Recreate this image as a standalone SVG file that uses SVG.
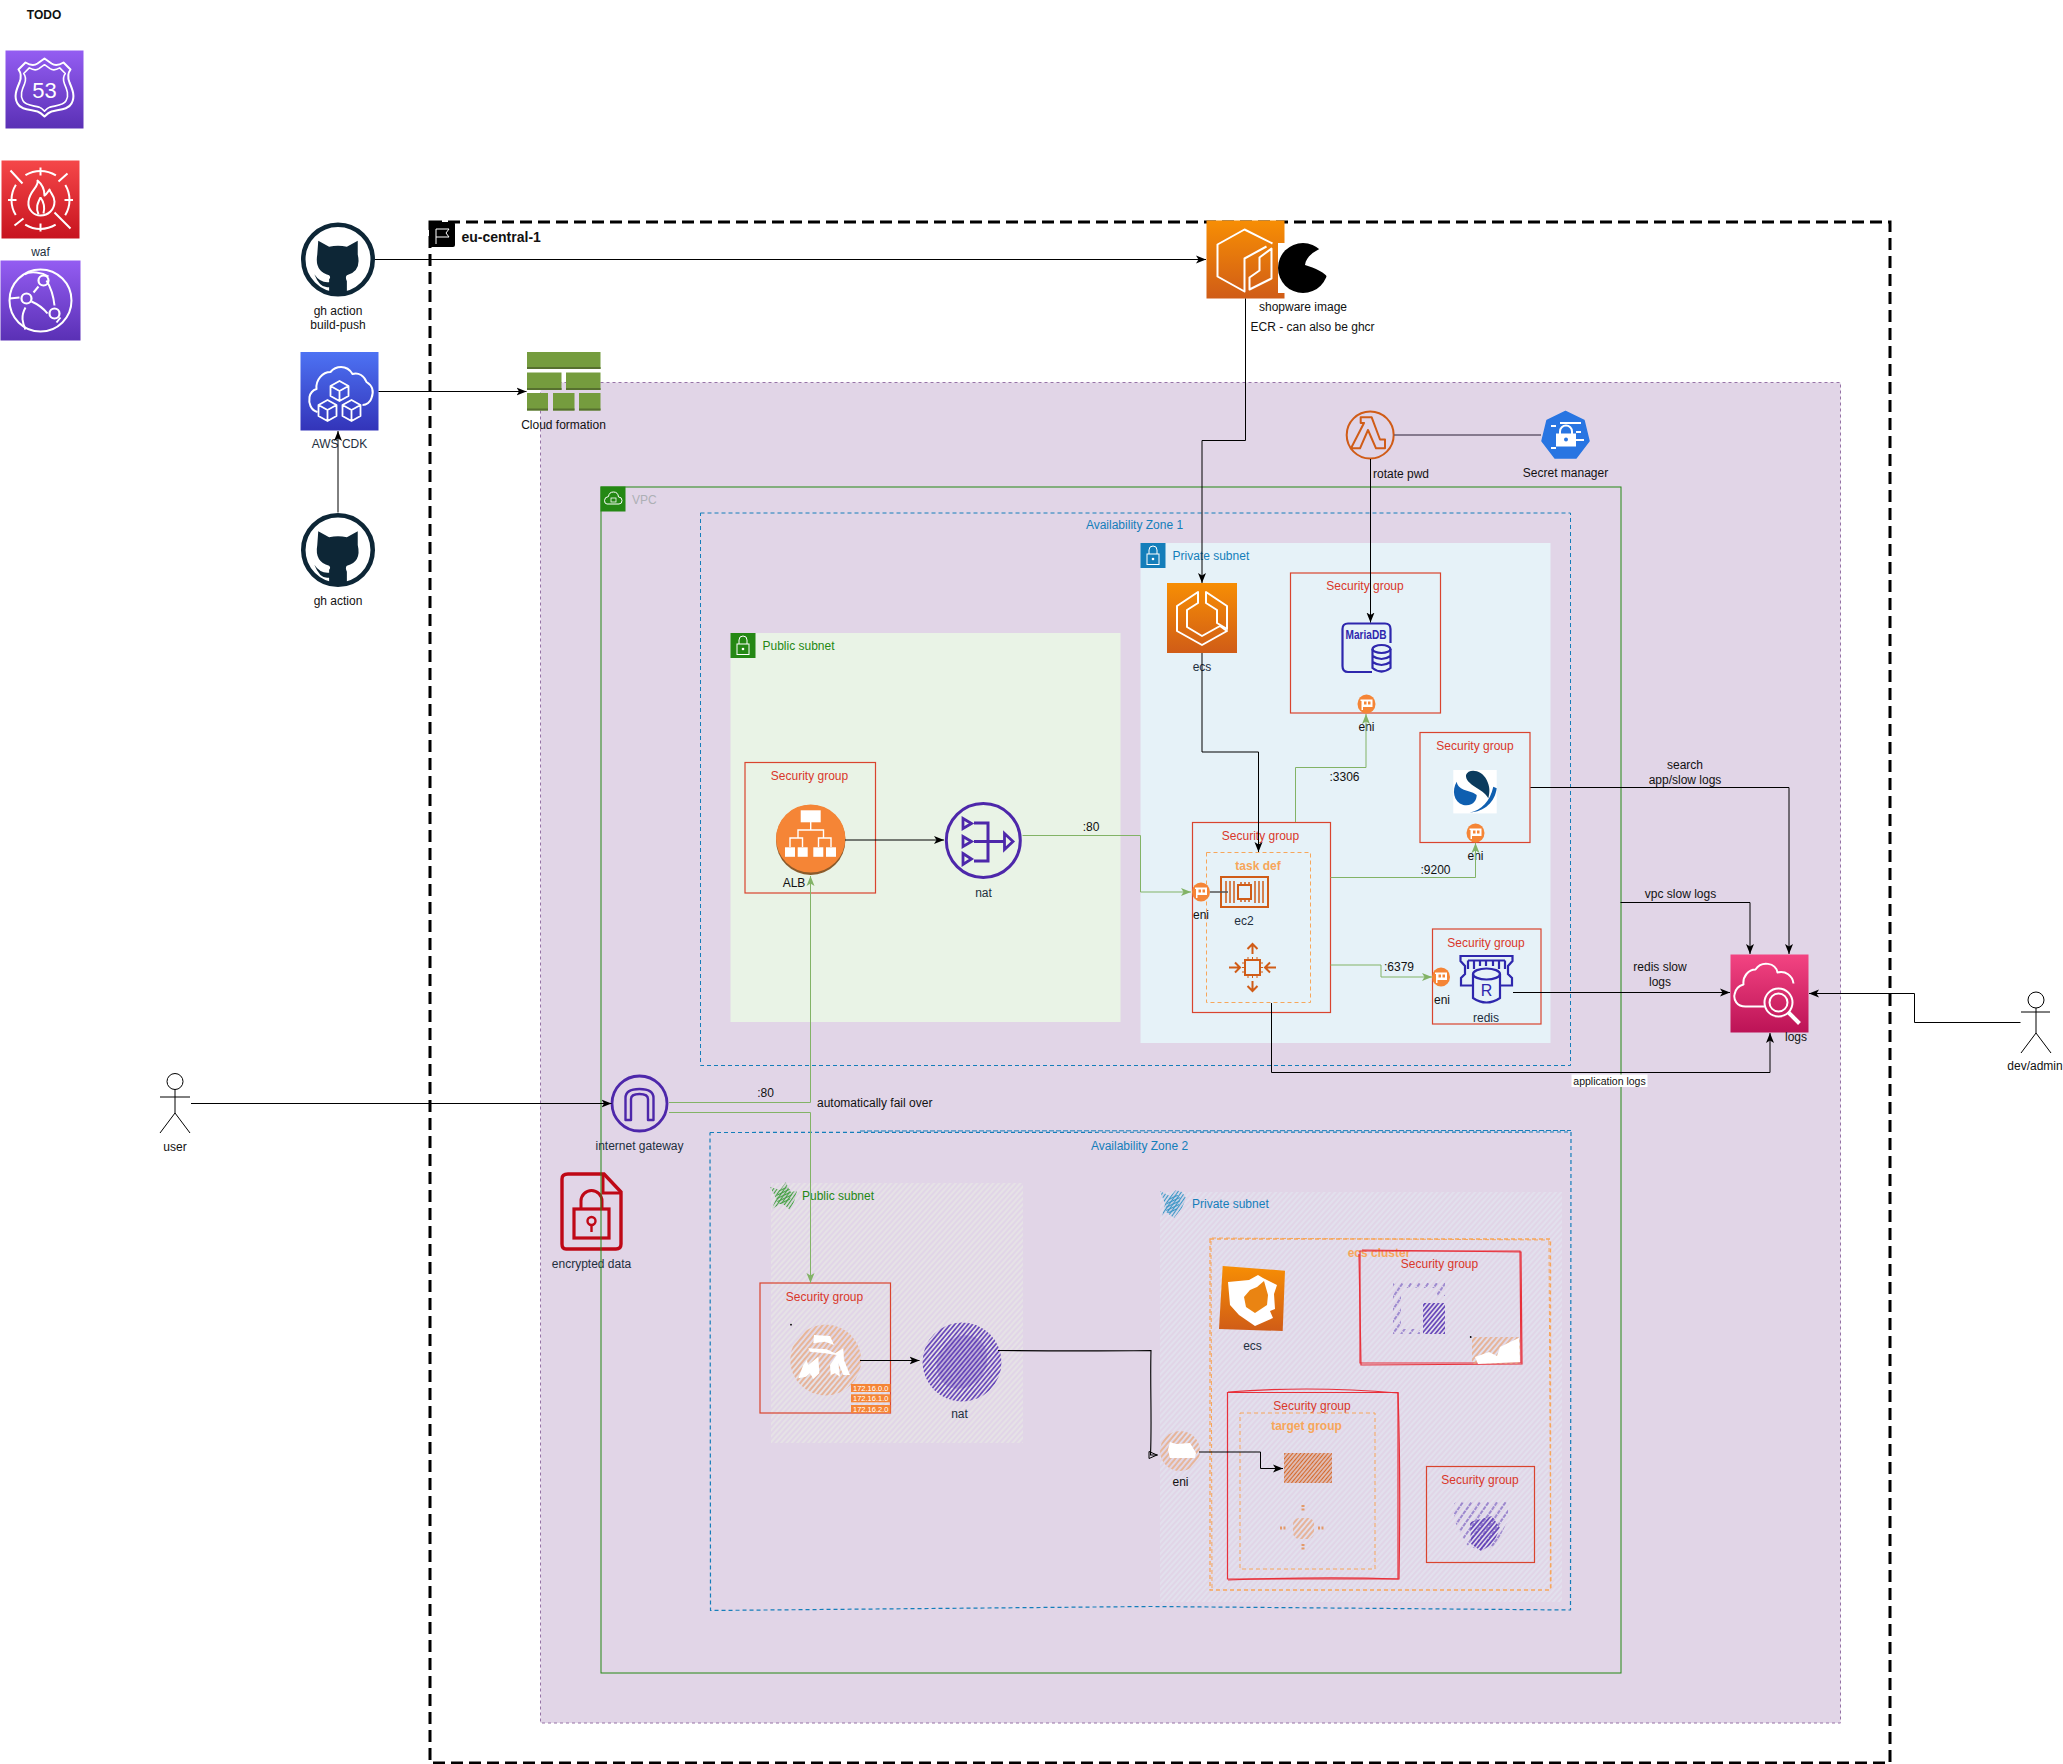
<svg xmlns="http://www.w3.org/2000/svg" width="2063" height="1764" viewBox="0 0 2063 1764">
<style>
text{font-family:"Liberation Sans",Arial,sans-serif;font-size:12px;fill:#111;dominant-baseline:central}
.m{text-anchor:middle}
.sgl{fill:#d9372a;text-anchor:middle}
.sg{fill:none;stroke:#d9442e;stroke-width:1.2}
.sk{fill:none;stroke:#e8303a;stroke-width:1.2}
.or{fill:#f7a65a;font-weight:bold;text-anchor:middle}
.dash{fill:none;stroke:#f7a65a;stroke-width:1;stroke-dasharray:4 3}
.ln{fill:none;stroke:#000;stroke-width:1;marker-end:url(#a)}
.ng{fill:none;stroke:#000;stroke-width:1}
.gr{fill:none;stroke:#82b366;stroke-width:1;marker-end:url(#g)}
.w{fill:none;stroke:#fff;stroke-width:2;stroke-linejoin:round}
.o{fill:none;stroke:#d05c17;stroke-width:2}
.p{fill:none;stroke:#2e27ad;stroke-width:2.2}
.v{fill:none;stroke:#4d27aa;stroke-width:3}
.tag{font-size:7.500px;fill:#fff;text-anchor:middle}
</style>
<defs>
<marker id="a" markerUnits="userSpaceOnUse" markerWidth="11" markerHeight="10" refX="10" refY="4.500" orient="auto"><path d="M0 .5L10 4.500L0 8.500L2.500 4.500Z" fill="#000"/></marker>
<marker id="g" markerUnits="userSpaceOnUse" markerWidth="11" markerHeight="10" refX="10" refY="4.500" orient="auto"><path d="M0 .5L10 4.500L0 8.500L2.500 4.500Z" fill="#82b366"/></marker>
<marker id="op" markerUnits="userSpaceOnUse" markerWidth="11" markerHeight="10" refX="10" refY="4.500" orient="auto"><path d="M1 1L9 4.500L1 8Z" fill="none" stroke="#000"/></marker>
<linearGradient id="gPur" x1="0" y1="0" x2="0" y2="1"><stop offset="0" stop-color="#945df2"/><stop offset="1" stop-color="#5a30b5"/></linearGradient>
<linearGradient id="gRed" x1="0" y1="0" x2="0" y2="1"><stop offset="0" stop-color="#f54749"/><stop offset="1" stop-color="#c7131f"/></linearGradient>
<linearGradient id="gBlu" x1="0" y1="0" x2="0" y2="1"><stop offset="0" stop-color="#4d72f3"/><stop offset="1" stop-color="#3334b9"/></linearGradient>
<linearGradient id="gOrg" x1="0" y1="0" x2="0" y2="1"><stop offset="0" stop-color="#f78e04"/><stop offset="1" stop-color="#d05c17"/></linearGradient>
<linearGradient id="gPnk" x1="0" y1="0" x2="0" y2="1"><stop offset="0" stop-color="#f34482"/><stop offset="1" stop-color="#bc1356"/></linearGradient>
<pattern id="hPub" patternUnits="userSpaceOnUse" width="4" height="4" patternTransform="rotate(-48)"><path d="M0 2H4" stroke="#e8e6e6" stroke-width="1.600"/></pattern>
<pattern id="hPri" patternUnits="userSpaceOnUse" width="4" height="4" patternTransform="rotate(-48)"><path d="M0 2H4" stroke="#e2e3ef" stroke-width="1.600"/></pattern>
<pattern id="hOrg" patternUnits="userSpaceOnUse" width="4" height="4" patternTransform="rotate(-50)"><path d="M0 2H4" stroke="#e9a87f" stroke-width="1.500"/></pattern>
<pattern id="hOrd" patternUnits="userSpaceOnUse" width="3" height="3" patternTransform="rotate(-50)"><path d="M0 1.500H3" stroke="#d5692a" stroke-width="1.600"/></pattern>
<pattern id="hVio" patternUnits="userSpaceOnUse" width="3.400" height="3.400" patternTransform="rotate(-50)"><path d="M0 1.700H3.400" stroke="#5a38b4" stroke-width="1.500"/></pattern>
<pattern id="hVi2" patternUnits="userSpaceOnUse" width="5" height="7" patternTransform="rotate(-55)"><path d="M0 2H5" stroke="#5a38b4" stroke-width="1.200" stroke-dasharray="3 1"/></pattern>
<pattern id="hGrn" patternUnits="userSpaceOnUse" width="3" height="3" patternTransform="rotate(-55)"><path d="M0 1.500H3" stroke="#45a045" stroke-width="1.200"/></pattern>
<pattern id="hBlu" patternUnits="userSpaceOnUse" width="3" height="3" patternTransform="rotate(-55)"><path d="M0 1.500H3" stroke="#3a96c6" stroke-width="1.200"/></pattern>
<symbol id="gh" viewBox="-38 -38 76 76" overflow="visible">
<circle r="35.200" fill="#fff" stroke="#0d2636" stroke-width="4.600"/>
<path fill="#0d2636" d="M-20-19L-9-13Q0-15 9-13L20-19L20-5Q24 12 9 16Q7 18 9 22L9 34Q0 36-9 34L-9 28Q-18 30-24 15Q-18 24-9 23L-9 20Q-7 18-9 16Q-24 12-21-5Z"/>
</symbol>
<symbol id="eni" viewBox="-10 -10 20 20" overflow="visible">
<ellipse rx="9" ry="9.600" fill="#f58536"/>
<path d="M-6-4.500H6V3H-3.500V6H-5V-3H-6Z" fill="#fff"/><path d="M-2.500-2.500H0V.5H-2.500ZM1.500-2.500H4V.5H1.500Z" fill="#f58536"/>
</symbol>
</defs>

<g id="region"><rect x="430" y="222" width="1460" height="1541" fill="none" stroke="#000" stroke-width="3" stroke-dasharray="12 6"/>
<rect x="429" y="222" width="26" height="25" rx="2" fill="#000"/><path d="M436 229V244M436 229H449L446 233L449 237H436" fill="none" stroke="#fff" stroke-width="1"/>
<text x="461.500" y="237" style="font-weight:bold;font-size:14px">eu-central-1</text></g>
<g id="stack"><rect x="540.500" y="382.500" width="1300" height="1340.500" fill="#e1d5e7" stroke="#9673a6" stroke-width="1" stroke-dasharray="3 3"/></g>

<g id="encrypted-data"><path d="M568 1174H604L621 1192V1244Q621 1249 616 1249H566Q562 1249 562 1244V1179Q562 1174 568 1174Z" fill="none" stroke="#bf0816" stroke-width="3.400"/><path d="M603 1175V1193H621" fill="none" stroke="#bf0816" stroke-width="3"/>
<rect x="574" y="1209" width="35" height="29" fill="none" stroke="#bf0816" stroke-width="3.200"/><path d="M581 1209V1201a10.500 10.500 0 0 1 21 0V1209" fill="none" stroke="#bf0816" stroke-width="3"/><circle cx="591.500" cy="1221" r="4" fill="none" stroke="#bf0816" stroke-width="2.400"/><path d="M591.500 1225V1232" stroke="#bf0816" stroke-width="2.400"/>
<text class="m" x="591.500" y="1264" style="fill:#232f3e">encrypted data</text></g>

<g id="vpc"><rect x="601" y="487" width="1020" height="1186" fill="none" stroke="#248814" stroke-width="1"/>
<rect x="600.500" y="486.500" width="25" height="25" fill="#248814"/>
<path d="M607 504H619Q622 504 622 500.500Q622 497 618.500 497Q618 492 613.500 492Q609 492 608.500 496.500Q604.500 497 604.500 500.500Q604.500 504 607 504Z" fill="none" stroke="#fff" stroke-width="1"/><rect x="611" y="498" width="5" height="4" fill="none" stroke="#fff" stroke-width=".8"/>
<text x="632" y="499.500" style="fill:#adb0b5">VPC</text></g>

<g id="az1"><rect x="700.500" y="513" width="870" height="552.500" fill="none" stroke="#147eba" stroke-width="1" stroke-dasharray="4 3"/>
<text class="m" x="1134.500" y="525" style="fill:#147eba">Availability Zone 1</text></g>

<g id="public-subnet-1"><rect x="730.500" y="633" width="390" height="389" fill="#e9f3e6"/>
<rect x="730.500" y="633" width="25" height="25" fill="#248814"/><rect x="737" y="644" width="12" height="10.500" fill="none" stroke="#fff" stroke-width="1"/><path d="M739 644V640a4 4 0 0 1 8 0V644" fill="none" stroke="#fff" stroke-width="1"/><circle cx="743" cy="649" r="1.300" fill="#fff"/>
<text x="762.500" y="645.500" style="fill:#248814">Public subnet</text></g>

<g id="private-subnet-1"><rect x="1140.500" y="543" width="410" height="500" fill="#e6f2f8"/>
<rect x="1140.500" y="543" width="25" height="25" fill="#147eba"/><rect x="1147" y="554" width="12" height="10.500" fill="none" stroke="#fff" stroke-width="1"/><path d="M1149 554V550a4 4 0 0 1 8 0V554" fill="none" stroke="#fff" stroke-width="1"/><circle cx="1153" cy="559" r="1.300" fill="#fff"/>
<text x="1172.500" y="556" style="fill:#147eba">Private subnet</text></g>

<g id="az2"><path d="M710 1132.500L1571 1132" fill="none" stroke="#147eba" stroke-width="1.200" stroke-dasharray="4 3"/><path d="M860 1131L1571 1130.500" fill="none" stroke="#147eba" stroke-width="1" stroke-dasharray="5 2"/><path d="M1571 1132L1570.500 1610L1150 1606.500L710.500 1610.500L710 1132.500" fill="none" stroke="#147eba" stroke-width="1.200" stroke-dasharray="4 3"/>
<text class="m" x="1139.500" y="1146" style="fill:#147eba">Availability Zone 2</text></g>

<g id="public-subnet-2"><rect x="771" y="1183" width="252" height="260" fill="url(#hPub)"/><path d="M770 1187L780 1190L786 1182L790 1192L797 1191L794 1202L790 1210L782 1203L772 1209L776 1198Z" fill="url(#hGrn)"/><ellipse cx="784" cy="1196" rx="7" ry="9" fill="url(#hGrn)" transform="rotate(30 784 1196)"/>
<text x="802" y="1195.500" style="fill:#248814">Public subnet</text></g>
<g id="private-subnet-2"><rect x="1160" y="1192" width="402" height="410" fill="url(#hPri)"/><path d="M1160 1191L1170 1196L1176 1190L1182 1192L1186 1198L1182 1208L1174 1218L1166 1212L1162 1217L1165 1204Z" fill="url(#hBlu)"/><ellipse cx="1173" cy="1204" rx="6" ry="10" fill="url(#hBlu)" transform="rotate(30 1173 1204)"/>
<text x="1192" y="1203.500" style="fill:#147eba">Private subnet</text></g>

<g id="route53"><rect x="5.500" y="50.500" width="78" height="78" fill="url(#gPur)"/>
<g transform="translate(5.500 50.500)"><path class="w" d="M39 8l-7 5c-3 2-7 2-12-1l-7 7c3 4 3 8 1 13c-3 7-6 14-2 21c3 6 12 6 20 8c3 1 5 3 7 5c2-2 4-4 7-5c8-2 17-2 20-8c4-7 1-14-2-21c-2-5-2-9 1-13l-7-7c-5 3-9 3-12 1z"/>
<path class="w" transform="translate(39 39) scale(.8) translate(-39 -39)" d="M39 8l-7 5c-3 2-7 2-12-1l-7 7c3 4 3 8 1 13c-3 7-6 14-2 21c3 6 12 6 20 8c3 1 5 3 7 5c2-2 4-4 7-5c8-2 17-2 20-8c4-7 1-14-2-21c-2-5-2-9 1-13l-7-7c-5 3-9 3-12 1z"/>
<text class="m" x="39" y="40" style="fill:#fff;font-size:22px">53</text></g></g>

<g id="waf"><rect x="1.500" y="160.500" width="78" height="78" fill="url(#gRed)"/>
<g transform="translate(1.500 160.500)"><circle cx="39" cy="39.500" r="29" fill="none" stroke="#fff" stroke-width="2" stroke-dasharray="32 13.550" stroke-dashoffset="16"/>
<path class="w" d="M39 7V15M39 63V71M6.500 39.500H15M63 39.500H71.500M9 10L21 23M53 52L69 68M66 13L57 21M22 58L13 65"/>
<path class="w" d="M36 20C38 26 28 30 27 41C26 50 33 55 39 55C47 55 53 49 53 41C53 35 49 33 48 29C46 32 45 34 43 35C43 29 41 24 36 20Z"/><path class="w" d="M39 37C42 41 44 45 42 53M39 37C36 43 34 47 37 54"/></g>
<text class="m" x="40.500" y="251.500" style="fill:#232f3e">waf</text></g>

<g id="cloudfront"><rect x=".5" y="260.500" width="80" height="80" fill="url(#gPur)"/>
<g transform="translate(.5 260.500)"><circle cx="40" cy="40" r="31" fill="none" stroke="#fff" stroke-width="2"/>
<path class="w" d="M9 38L19 37M31 41C38 44 43 48 47 53M33 32L38 26M46 20C51 28 53 36 54 45M25 47C20 56 22 62 25 69M56 62L60 57M48 16C42 12 30 10 24 14"/><circle cx="43" cy="20" r="5" fill="none" stroke="#fff" stroke-width="2.200"/><circle cx="26" cy="38" r="5" fill="none" stroke="#fff" stroke-width="2.200"/><circle cx="54" cy="53" r="5" fill="none" stroke="#fff" stroke-width="2.200"/></g></g>
<g id="todo"><text class="m" x="44" y="14.500" style="font-weight:bold">TODO</text></g>

<g id="gh-build-push"><use href="#gh" x="300.500" y="222" width="75" height="75"/><text class="m" x="338" y="311">gh action</text><text class="m" x="338" y="325">build-push</text></g>

<g id="aws-cdk"><rect x="300.500" y="352" width="78" height="78.500" fill="url(#gBlu)"/>
<g transform="translate(300.500 352)"><path class="w" d="M17 60C10 58 8 51 9 45C10 40 13 38 16 37C15 28 22 20 30 20C35 14 46 12 52 22C58 20 64 24 66 30C71 33 74 38 71 46C70 50 66 53 62 53"/>
<g fill="none" stroke="#fff" stroke-width="1.800" stroke-linejoin="round"><path d="M39 29L48 34V44L39 49L30 44V34ZM30 34L39 39L48 34M39 39V49"/><path d="M27 48L36 53V64L27 69L18 64V53ZM18 53L27 58L36 53M27 58V69"/><path d="M51 48L60 53V64L51 69L42 64V53ZM42 53L51 58L60 53M51 58V69"/></g></g>
<text class="m" x="339.500" y="444" style="fill:#232f3e">AWS CDK</text></g>

<g id="cloud-formation"><g fill="#759c3e"><rect x="527" y="352" width="73.500" height="17"/><rect x="527" y="372.500" width="34.500" height="17.500"/><rect x="566" y="372.500" width="34.500" height="17.500"/><rect x="527" y="393" width="21" height="17.500"/><rect x="553" y="393" width="21.500" height="17.500"/><rect x="579" y="393" width="21.500" height="17.500"/></g>
<g fill="#56702f"><rect x="527" y="367" width="73.500" height="2"/><rect x="527" y="388" width="34.500" height="2"/><rect x="566" y="388" width="34.500" height="2"/><rect x="527" y="408.500" width="21" height="2"/><rect x="553" y="408.500" width="21.500" height="2"/><rect x="579" y="408.500" width="21.500" height="2"/></g>
<text class="m" x="563.500" y="424.500">Cloud formation</text></g>

<g id="gh-action"><use href="#gh" x="300.500" y="512.500" width="75" height="75"/><text class="m" x="338" y="601">gh action</text></g>

<g id="ecr"><rect x="1206.500" y="220.500" width="78" height="78" fill="url(#gOrg)"/>
<g transform="translate(1206.500 220.500)"><path class="w" d="M66 23L38 9L11 24V56L38 71V38L60 26"/><path class="w" d="M43 69V57L53 50V37L65 28V58Z"/></g>
<text x="1250.500" y="327">ECR - can also be ghcr</text></g>
<g id="shopware-image"><rect x="1278" y="243" width="50" height="50" fill="#fff"/><circle cx="1303" cy="268" r="25" fill="#000"/>
<path fill="#fff" d="M1324 247C1316 250 1306 256 1305 265C1315 268 1325 272 1330 280L1336 250Z"/>
<text class="m" x="1303" y="307">shopware image</text></g>

<g id="rotate-pwd"><ellipse cx="1370.200" cy="435" rx="23.500" ry="23.500" fill="none" stroke="#d05c17" stroke-width="2"/>
<path fill="none" stroke="#d05c17" stroke-width="2" stroke-linejoin="round" d="M1360.700 417.300H1371.700L1380 439.500H1385V448.300H1376L1368 430L1360 448.300H1351L1364 423H1360.700Z"/><text x="1373" y="474">rotate pwd</text></g>
<g id="secret-manager"><path d="M1565.500 411.500L1584 420.500L1589 441L1576 458H1555L1542 441L1547 420.500Z" fill="#2875e2" stroke="#2875e2" stroke-width="1.500" stroke-linejoin="round"/>
<path d="M1560 423H1581M1551 426H1556M1576 432H1581M1576 440H1584M1551 448H1556" stroke="#fff" stroke-width="2" fill="none"/><rect x="1556" y="433.500" width="20" height="13" fill="#fff"/><path d="M1560 434V431.500a6 6 0 0 1 12 0V434" fill="none" stroke="#fff" stroke-width="2"/><circle cx="1566" cy="439.500" r="2" fill="#2875e2"/>
<text class="m" x="1565.500" y="473">Secret manager</text></g>

<g id="ecs"><rect x="1167" y="583" width="70" height="70" fill="url(#gOrg)"/>
<g transform="translate(1167 583)"><path class="w" d="M31 9L10 23V48L35 62L60 48L53 43L35 53L20 44V27L31 20Z"/><path class="w" d="M39 9V20L50 27V40L60 46V23Z"/></g>
<text class="m" x="1202" y="666.500" style="fill:#232f3e">ecs</text></g>

<g id="mariadb"><rect class="sg" x="1290.500" y="573" width="150" height="140"/><text class="sgl" x="1365" y="586">Security group</text>
<path class="p" d="M1372 672H1348Q1342.500 672 1342.500 666V629Q1342.500 623.500 1348 623.500H1385Q1390.500 623.500 1390.500 629V643"/>
<text class="m" x="1366" y="635" textLength="41" lengthAdjust="spacingAndGlyphs" style="font-weight:bold;font-size:12px;fill:#2e27ad">MariaDB</text>
<ellipse class="p" cx="1381.500" cy="649" rx="9" ry="4"/><path class="p" d="M1372.500 649V668Q1381.500 675 1390.500 668V649M1372.500 656Q1381.500 662 1390.500 656M1372.500 662Q1381.500 668 1390.500 662"/>
<use href="#eni" x="1356.500" y="694" width="20" height="20"/><text class="m" x="1366.500" y="726.500">eni</text></g>

<g id="search"><rect class="sg" x="1420" y="732.500" width="110" height="110"/><text class="sgl" x="1475" y="746">Security group</text>
<rect x="1453.300" y="770" width="43.400" height="43.400" fill="#fff"/><path fill="#0b3b5e" d="M1466 775C1468.300 768.300 1481.700 769.300 1486.700 780C1490 786.700 1490 791.700 1488.300 798.300C1483.300 788.300 1465 785 1466 775Z"/><path fill="#0f5fb0" d="M1456.700 781.700C1451.700 790 1453.300 801.700 1463.300 805C1473.300 806.700 1476.700 800 1476.700 795C1471.700 790 1458.300 791.700 1456.700 781.700Z"/><path fill="#0f5fb0" d="M1496.700 788.300C1495 801.700 1485 811.700 1469.300 812.700C1481.700 810 1490 801.700 1493.300 786.700Z"/>
<use href="#eni" x="1465.500" y="823" width="20" height="20"/><text class="m" x="1475.500" y="856">eni</text></g>

<g id="alb"><rect class="sg" x="745" y="762.500" width="130.500" height="130.500"/><text class="sgl" x="809.500" y="776">Security group</text>
<ellipse cx="810.700" cy="840" rx="34.700" ry="35" fill="#8a5a2b"/><ellipse cx="810.700" cy="838.500" rx="34.700" ry="34" fill="#f58536"/>
<rect x="800.700" y="810.300" width="20" height="12" fill="#fff"/><path d="M810.700 822V830M798 838V830H823.500V838M790 847V838H802.500V847M818.500 847V838H831V847" fill="none" stroke="#fff" stroke-width="1.400"/>
<rect x="785" y="847.300" width="10" height="9.500" fill="#fff"/><rect x="797.700" y="847.300" width="10" height="9.500" fill="#fff"/><rect x="813.300" y="847.300" width="10" height="9.500" fill="#fff"/><rect x="826" y="847.300" width="10" height="9.500" fill="#fff"/>
<text class="m" x="794" y="883">ALB</text></g>

<g id="nat"><ellipse cx="983.300" cy="840.500" rx="37" ry="37" class="v"/>
<path d="M974 823H988V861H974M974 841.500H1004" class="v"/>
<path fill="none" stroke="#4d27aa" stroke-width="2.800" d="M963 818.500L971.500 823.500L963 828.500ZM963 836.500L971.500 841.500L963 846.500ZM963 853.500L971.500 859L963 864.500ZM1004.500 833.500L1013 841.500L1004.500 849.500Z"/>
<text class="m" x="983.500" y="893" style="fill:#232f3e">nat</text></g>

<g id="service"><rect class="sg" x="1192.500" y="822.500" width="138" height="190"/><text class="sgl" x="1260.500" y="836">Security group</text>
<rect class="dash" x="1206.500" y="852.500" width="104" height="150"/><text class="or" x="1258" y="866">task def</text>
<use href="#eni" x="1191" y="882" width="20" height="20"/><text class="m" x="1201" y="915">eni</text>
<rect class="o" x="1221" y="877" width="47" height="30"/><rect class="o" x="1238" y="885" width="13" height="14"/><path d="M1226 881V903M1230 881V903M1234 881V903M1255 881V903M1259 881V903M1263 881V903M1241 882V885M1245 882V885M1249 882V885M1241 899V902M1245 899V902M1249 899V902" stroke="#d05c17" stroke-width="1.500"/>
<text class="m" x="1244" y="921" style="fill:#232f3e">ec2</text>
<rect class="o" x="1245" y="960" width="15" height="15"/><path d="M1248 957V960M1252.500 957V960M1257 957V960M1248 975V978M1252.500 975V978M1257 975V978M1242 963H1245M1242 967.500H1245M1242 972H1245M1260 963H1263M1260 967.500H1263M1260 972H1263" stroke="#d05c17" stroke-width="1"/><path class="o" d="M1252.500 944V954M1247.500 949L1252.500 944L1257.500 949M1252.500 981V991M1247.500 986L1252.500 991L1257.500 986M1229 967.500H1240M1235 962.500L1240 967.500L1235 972.500M1276 967.500H1265M1270 962.500L1265 967.500L1270 972.500"/></g>

<g id="redis"><rect class="sg" x="1432.500" y="929" width="108.500" height="95"/><text class="sgl" x="1486" y="943">Security group</text>
<path class="p" d="M1472 985.500H1461V978L1465 974V966L1460.500 961V956H1512.500V961L1508 966V974L1512 978V985.500H1501M1468 960.500H1505M1468 960.500V969M1474 960.500V969M1480 960.500V966M1486 960.500V966M1493 960.500V966M1499 960.500V969M1505 960.500V969"/>
<ellipse cx="1486.500" cy="974" rx="13.500" ry="5.500" fill="#e6f2f8" stroke="#2e27ad" stroke-width="2.200"/><path class="p" d="M1473 974V998Q1486.500 1007 1500 998V974"/>
<text class="m" x="1486.500" y="990" style="font-size:16px;fill:#2e27ad">R</text>
<use href="#eni" x="1431" y="967" width="20" height="20"/><text class="m" x="1442" y="1000">eni</text><text class="m" x="1486" y="1018" style="fill:#232f3e">redis</text></g>

<g id="logs"><rect x="1730.500" y="954.500" width="78" height="78" fill="url(#gPnk)"/>
<g transform="translate(1730.500 954.500)"><path class="w" d="M34 52H15C6 52 3 45 4 40C5 34 9 31 13 30C12 22 18 15 25 15C31 6 45 8 47 18C55 16 62 21 63 29"/><circle class="w" cx="48" cy="48" r="14"/><circle class="w" cx="48" cy="48" r="9"/><path d="M58 58L69 69" stroke="#fff" stroke-width="4"/></g>
<text class="m" x="1796" y="1037">logs</text></g>

<g id="dev-admin"><circle cx="2036" cy="1000" r="8" fill="none" stroke="#000"/><path d="M2036 1008V1033M2021 1012H2050M2036 1033L2021 1053M2036 1033L2051 1053" fill="none" stroke="#000"/><text class="m" x="2035" y="1066">dev/admin</text></g>
<g id="user"><circle cx="175" cy="1081.500" r="8" fill="none" stroke="#000"/><path d="M175 1089.500V1113M160 1097H190M175 1113L160 1133M175 1113L190 1133" fill="none" stroke="#000"/><text class="m" x="175" y="1147">user</text></g>

<g id="internet-gateway"><circle cx="639.500" cy="1103.500" r="27.500" fill="none" stroke="#4d27aa" stroke-width="2.800"/>
<path fill="none" stroke="#4d27aa" stroke-width="2.400" stroke-linejoin="round" d="M625.500 1120V1098Q625.500 1089 639.500 1089Q653.500 1089 653.500 1098V1120H648V1099Q648 1094 639.500 1094Q631 1094 631 1099V1120Z"/>
<text class="m" x="639.500" y="1146" style="fill:#232f3e">internet gateway</text></g>

<g id="alb-2"><rect class="sg" x="760" y="1283" width="130.500" height="130"/><text class="sgl" x="824.500" y="1297">Security group</text>
<circle cx="791" cy="1324.700" r=".9" fill="#000"/>
<ellipse cx="825.700" cy="1360" rx="35.500" ry="35.500" fill="url(#hOrg)"/>
<g fill="#fff"><path d="M814 1335L830 1336L834 1345L825 1341.700L813.300 1343.300Z"/><path d="M808.300 1348.300L826.700 1349.300L835 1353.300L843.300 1348.300L844 1360L850 1375L843.300 1375L838.300 1363.300L840 1376.700L835 1373.300L830.700 1375L830 1365L836.700 1355L825 1353.300L810 1351.700Z"/><path d="M798.300 1378.300L803.300 1365L806.700 1360L808.300 1365L818.300 1356.700L819.300 1373.300L813.300 1379L810 1373.300L806 1376.700Z"/></g>
<g fill="#f58536"><rect x="851" y="1384" width="39.500" height="8"/><rect x="851" y="1394.300" width="39.500" height="8"/><rect x="851" y="1405" width="39.500" height="8"/></g>
<text class="tag" x="870.700" y="1388">172.16.0.0</text><text class="tag" x="870.700" y="1398.300">172.16.1.0</text><text class="tag" x="870.700" y="1409">172.16.2.0</text></g>

<g id="nat-2"><ellipse cx="962" cy="1362" rx="39.500" ry="39.500" fill="url(#hVio)"/><ellipse cx="962" cy="1362" rx="24" ry="28" transform="rotate(35 962 1362)" fill="#5a38b4" fill-opacity=".25"/><text class="m" x="959.500" y="1414" style="fill:#232f3e">nat</text></g>

<g id="eni-2"><circle cx="1180" cy="1451" r="20" fill="url(#hOrg)"/><path fill="#fff" d="M1170 1442L1176 1444L1190 1443L1196 1453L1195 1458L1170 1458L1168 1450Z"/><text class="m" x="1180.500" y="1482">eni</text></g>

<g id="ecs-cluster"><path d="M1210 1239H1550.500V1590H1210Z" class="dash" style="stroke-width:1.300"/><path d="M1212 1238L1549 1240M1211 1241L1212 1588M1549 1241L1551 1589" class="dash"/>
<text class="or" x="1379" y="1253">ecs cluster</text></g>

<g id="ecs-2"><path fill="url(#gOrg)" d="M1222.700 1266L1285 1270.700L1282.700 1331L1219 1329Z"/><path fill="#fff" d="M1258 1275L1249 1280L1228 1282L1230 1305L1239 1315L1255 1326L1273 1318L1270 1311L1275 1309L1274 1294L1277 1285L1263 1278Z"/><path fill="#ea8412" d="M1250 1290L1257 1287L1264 1281L1268 1295L1267 1305L1255 1313L1246 1307L1244 1297Z"/>
<text class="m" x="1252.500" y="1346" style="fill:#232f3e">ecs</text></g>

<g id="sg-maria-2"><path class="sk" d="M1360 1251L1520 1251L1521 1363L1360 1363Z"/><path class="sk" d="M1362 1250L1521 1252L1522 1364L1361 1365L1359 1254"/><text class="sgl" x="1439.500" y="1264">Security group</text>
<path d="M1393 1283H1445V1296H1437V1288H1401V1329H1420V1334H1393Z" fill="url(#hVi2)"/><rect x="1423" y="1303" width="22" height="31" fill="url(#hVio)"/>
<circle cx="1470.700" cy="1337" r=".9" fill="#000"/><rect x="1472" y="1337" width="48" height="27" fill="url(#hOrg)"/><path fill="#fff" d="M1475 1357L1489 1352L1497 1356L1500 1347L1510 1342L1519 1338L1520 1362L1478 1364Z"/></g>

<g id="sg-target-2"><path class="sk" d="M1227.500 1392.500L1398 1392.500L1398 1579L1227.500 1579Z"/><path class="sk" d="M1228 1392C1280 1388 1340 1388 1398 1393C1400 1450 1400 1520 1399 1579C1340 1577 1280 1578 1228 1580"/><text class="sgl" x="1312" y="1405.500">Security group</text>
<rect class="dash" x="1240" y="1413" width="135" height="156"/><text class="or" x="1306.500" y="1426">target group</text>
<rect x="1284" y="1453" width="48" height="30" fill="url(#hOrd)"/>
<path d="M1303 1505V1512M1303 1544V1551M1280 1528H1287M1318 1528H1325" stroke="#e39a69" stroke-width="3" stroke-dasharray="2 1.500"/><rect x="1293" y="1518" width="21" height="21" rx="6" fill="url(#hOrg)"/></g>

<g id="sg-redis-2"><rect class="sg" x="1426.500" y="1466.500" width="108" height="96"/><text class="sgl" x="1480" y="1480">Security group</text>
<path d="M1454 1502H1508V1520L1496 1545L1481 1551L1467 1545L1454 1520Z" fill="url(#hVi2)"/><path d="M1470 1522L1492 1516L1500 1528L1493 1544L1481 1551L1471 1544Z" fill="url(#hVio)"/></g>

<g id="connectors">
<path class="ln" d="M375 259.500H1206"/>
<path class="ln" d="M378.500 391.500H526.500"/>
<path class="ln" d="M338 512.500V431"/>
<path class="ln" d="M1245.500 298.500V440.500H1202V583"/>
<path class="ng" d="M1394 435H1541" style="stroke:#665b70;stroke-width:1.500"/>
<path class="ln" d="M1370.500 459V622.500"/>
<path class="ln" d="M1202 653V752H1258.500V852"/>
<path class="ln" d="M845 840H944"/>
<path class="gr" d="M669 1102.500H810.500V876"/>
<path class="gr" d="M669 1112.500H810.500V1283"/>
<path class="gr" d="M1022.500 835.500H1140.500V892H1191"/>
<path class="gr" d="M1295.500 822V767.500H1366V714"/>
<path class="gr" d="M1330.500 877.500H1475.500V843"/>
<path class="gr" d="M1330.500 965H1381V977H1432"/>
<path class="ln" d="M1530.500 787.500H1789V954"/>
<path class="ln" d="M1620.500 902.500H1750V954"/>
<path class="ln" d="M1513 992.500H1730"/>
<path class="ln" d="M1271.500 1003V1072.500H1770V1033"/>
<path class="ln" d="M2020.500 1022.500H1914.500V993.500H1809"/>
<path class="ln" d="M191 1103.500H611.500"/>
<path class="ln" d="M860 1360.500H919.500"/>
<path d="M998 1350.500C1050 1351 1110 1351 1151 1350.500C1150 1385 1152 1420 1150.500 1455L1158 1455" fill="none" stroke="#000" stroke-width="1.100" marker-end="url(#op)"/>
<path class="ln" d="M1199 1452H1260.500V1468.500H1283"/>
<path class="ng" d="M1210 892H1228" style="stroke:#555;stroke-width:1.500"/>
<g class="labels">
<text class="m" x="765.500" y="1093">:80</text>
<text x="817" y="1103">automatically fail over</text>
<text class="m" x="1091" y="827">:80</text>
<text class="m" x="1344.500" y="777">:3306</text>
<text class="m" x="1435.500" y="870">:9200</text>
<text class="m" x="1399" y="967">:6379</text>
<text class="m" x="1685" y="765">search</text><text class="m" x="1685" y="780">app/slow logs</text>
<text class="m" x="1680.500" y="894">vpc slow logs</text>
<text class="m" x="1660" y="967">redis slow</text><text class="m" x="1660" y="982">logs</text>
<rect x="1571.500" y="1074.500" width="76" height="12.500" fill="#fff"/>
<text class="m" x="1609.500" y="1081" style="font-size:10.500px">application logs</text>
</g></g>
</svg>
